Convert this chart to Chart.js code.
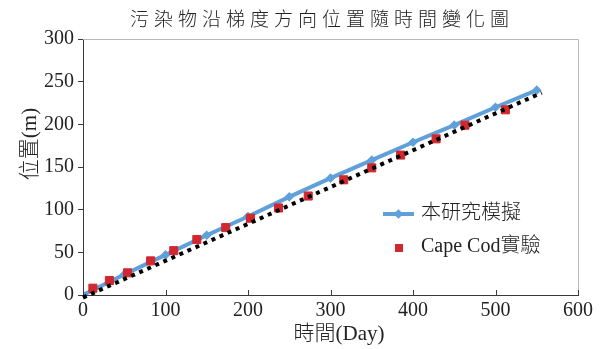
<!DOCTYPE html>
<html>
<head>
<meta charset="utf-8">
<script src="https://cdn.jsdelivr.net/npm/chart.js@4.4.1/dist/chart.umd.min.js"></script>
<style>
html, body { margin: 0; padding: 0; background: #fff; }
#wrap { width: 601px; height: 349px; }
</style>
</head>
<body>
<div id="wrap"><canvas id="chart" width="601" height="349"></canvas></div>
<script>
// labels
const titleText = '污染物沿梯度方向位置隨時間變化圖';
const xTitle = '時間(Day)';
const yTitle = '位置(m)';
const modelLabel = '本研究模擬';
const capeLabel = 'Cape Cod實驗';

// model curve (days, metres)
const modelDays = [0, 50, 100, 150, 200, 250, 300, 350, 400, 450, 500, 550];
const modelPos = [0, 24, 47, 70, 92, 115, 137, 158, 179, 199, 220, 240];

// Cape Cod field data
const capeDays = [12, 32, 54, 82, 110, 138, 173, 203, 237, 273, 316, 350, 385, 428, 463, 512];
const capePos = [8, 17, 26, 40, 52, 65, 79, 90, 102, 116, 135, 149, 164, 183, 199, 217];

// dotted trend line
const trendDays = [0, 556];
const trendPos = [-3, 237];

const serif = '"Liberation Serif", "Noto Sans CJK TC", serif';
const axisColor = '#3a3a3a';
const blue = '#5fa0da';
const red = '#d1282f';

const toXY = (xs, ys) => xs.map((x, i) => ({ x: x, y: ys[i] }));

const decorPlugin = {
    id: 'decor',
    afterDraw(chart) {
        const ctx = chart.ctx;
        const area = chart.chartArea;
        const xScale = chart.scales.x;
        ctx.save();
        // top and right frame
        ctx.strokeStyle = '#b8b8b8';
        ctx.lineWidth = 1;
        ctx.beginPath();
        ctx.moveTo(area.left, area.top + 0.5);
        ctx.lineTo(area.right + 0.5, area.top + 0.5);
        ctx.lineTo(area.right + 0.5, area.bottom);
        ctx.stroke();
        // inward ticks on x axis
        ctx.strokeStyle = axisColor;
        ctx.beginPath();
        xScale.ticks.forEach(t => {
            const px = Math.round(xScale.getPixelForValue(t.value)) + 0.5;
            ctx.moveTo(px, area.bottom);
            ctx.lineTo(px, area.bottom - 5);
        });
        ctx.stroke();

        // title
        ctx.fillStyle = '#222';
        ctx.textAlign = 'center';
        ctx.textBaseline = 'middle';
        ctx.font = '300 19px ' + serif;
        ctx.letterSpacing = '5px';
        ctx.fillText(titleText, 322, 21);
        ctx.letterSpacing = '0px';

        // axis titles
        ctx.font = '300 21px ' + serif;
        ctx.fillText(xTitle, 339, 334);
        ctx.save();
        ctx.translate(30, 144);
        ctx.rotate(-Math.PI / 2);
        ctx.fillText(yTitle, 0, 0);
        ctx.restore();

        // legend
        const m = chart.data.datasets[0];
        const c = chart.data.datasets[1];
        ctx.font = '300 20px ' + serif;
        ctx.textAlign = 'left';
        ctx.strokeStyle = m.borderColor;
        ctx.lineWidth = m.borderWidth;
        ctx.beginPath();
        ctx.moveTo(383, 214);
        ctx.lineTo(414, 214);
        ctx.stroke();
        ctx.fillStyle = m.pointBackgroundColor;
        ctx.strokeStyle = m.pointBorderColor;
        Chart.helpers.drawPoint(ctx, { pointStyle: m.pointStyle, radius: m.pointRadius, borderWidth: 1 }, 398.5, 214);
        ctx.fillStyle = c.backgroundColor;
        ctx.fillRect(395, 244, 8, 8);
        ctx.fillStyle = '#222';
        ctx.fillText(modelLabel, 421, 214);
        ctx.fillText(capeLabel, 421, 247);
        ctx.restore();
    }
};

const chart = new Chart(document.getElementById('chart'), {
    type: 'scatter',
    data: {
        datasets: [{
            label: modelLabel,
            type: 'line',
            data: toXY(modelDays, modelPos),
            borderColor: blue,
            backgroundColor: blue,
            borderWidth: 4,
            pointStyle: 'rectRot',
            pointRadius: 2,
            pointBackgroundColor: '#8cbde8',
            pointBorderColor: blue,
            tension: 0,
            order: 2
        }, {
            label: capeLabel,
            data: toXY(capeDays, capePos),
            backgroundColor: red,
            borderColor: red,
            pointStyle: 'rect',
            pointRadius: 5.7,
            order: 1
        }, {
            label: 'trend',
            type: 'line',
            data: toXY(trendDays, trendPos),
            borderColor: '#000',
            borderWidth: 4,
            borderDash: [4, 4.8],
            pointRadius: 0,
            clip: false,
            order: 0
        }]
    },
    options: {
        responsive: false,
        devicePixelRatio: 1,
        animation: false,
        layout: { padding: { left: 0, top: 39, right: 23, bottom: 0 } },
        plugins: {
            legend: { display: false },
            title: { display: false },
            tooltip: { enabled: false }
        },
        scales: {
            x: {
                type: 'linear',
                min: 0,
                max: 600,
                ticks: { stepSize: 100, color: '#222', padding: 4, font: { family: serif, size: 20 } },
                grid: { display: true, drawOnChartArea: false, drawTicks: false },
                border: { display: true, color: axisColor, width: 1 },
                afterFit(scale) { scale.height = 54; }
            },
            y: {
                min: 0,
                max: 300,
                ticks: { stepSize: 50, color: '#222', padding: 4, font: { family: serif, size: 20 } },
                grid: { display: true, drawOnChartArea: false, drawTicks: true, tickLength: 5, color: axisColor },
                border: { display: true, color: axisColor, width: 1 },
                afterFit(scale) { scale.width = 83; }
            }
        }
    },
    plugins: [decorPlugin]
});
</script>
</body>
</html>
